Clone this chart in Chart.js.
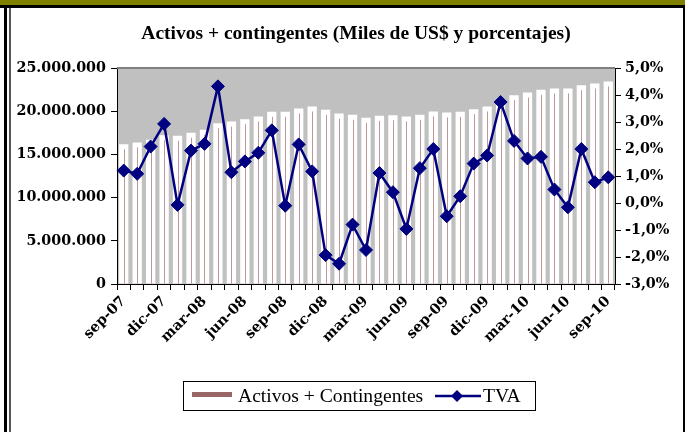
<!DOCTYPE html>
<html><head><meta charset="utf-8">
<script src="https://cdn.jsdelivr.net/npm/chart.js@4/dist/chart.umd.min.js"></script>
<style>
html,body{margin:0;padding:0;background:#fff;}
#wrap{position:relative;width:685px;height:432px;overflow:hidden;background:#fff;}
canvas{position:absolute;left:0;top:0;}
.f{position:absolute;}
.lt{font-family:"Liberation Serif",serif;font-size:19.6px;line-height:20px;color:#000;white-space:nowrap;}
#title{font-family:"Liberation Serif",serif;font-size:19.5px;font-weight:bold;line-height:24px;text-align:center;white-space:nowrap;color:#000;}
</style></head><body>
<div id="wrap">
<canvas id="c" width="685" height="432"></canvas>
<div class="f" style="left:0;top:0;width:685px;height:5px;background:#808000"></div>
<div class="f" style="left:0;top:5px;width:685px;height:3px;background:#000"></div>
<div class="f" style="left:4px;top:5px;width:3px;height:427px;background:#000"></div>
<div class="f" style="left:9px;top:8px;width:2px;height:424px;background:#555"></div>
<div class="f" style="left:683px;top:5px;width:2px;height:427px;background:#000"></div>
<div id="title" class="f" style="left:0;top:21px;width:712px"></div>
<div class="f" style="left:183px;top:381px;width:351px;height:28px;border:1px solid #000;"></div>
<div class="f" style="left:192px;top:392px;width:40px;height:5px;background:#996666"></div>
<span id="lg0" class="f lt" style="left:238px;top:386px"></span>
<svg class="f" style="left:433px;top:386px" width="50" height="20"><line x1="2" y1="10" x2="48" y2="10" stroke="#000080" stroke-width="2.5"/><polygon points="24,4 30,10 24,16 18,10" fill="#000080"/></svg>
<span id="lg1" class="f lt" style="left:483px;top:386px"></span>
</div>
<script>
const months = ['sep-07','oct-07','nov-07','dic-07','ene-08','feb-08','mar-08','abr-08','may-08','jun-08','jul-08','ago-08',
'sep-08','oct-08','nov-08','dic-08','ene-09','feb-09','mar-09','abr-09','may-09','jun-09','jul-09','ago-09',
'sep-09','oct-09','nov-09','dic-09','ene-10','feb-10','mar-10','abr-10','may-10','jun-10','jul-10','ago-10','sep-10'];
const activos = [16180000,16380000,16690000,17220000,17150000,17500000,17840000,18600000,18800000,19070000,
19390000,19930000,19930000,20300000,20540000,20160000,19730000,19580000,19230000,19460000,
19540000,19390000,19580000,19970000,19850000,19930000,20230000,20540000,21200000,21850000,
22160000,22470000,22630000,22630000,23000000,23200000,23440000];
const tva = [1.20,1.08,2.09,2.93,-0.07,1.94,2.19,4.32,1.14,1.54,1.86,2.69,-0.10,2.17,1.17,-1.93,-2.25,-0.80,-1.74,1.11,
0.40,-0.96,1.29,2.00,-0.49,0.25,1.46,1.76,3.74,2.30,1.65,1.71,0.50,-0.16,2.00,0.77,0.95];
const xTickEvery = 3;
const seriesNames = ['Activos + Contingentes','TVA'];
const titleText = 'Activos + contingentes (Miles de US$ y porcentajes)';

document.getElementById('title').textContent = titleText;
document.getElementById('lg0').textContent = seriesNames[0];
document.getElementById('lg1').textContent = seriesNames[1];

const tickFont = {family:'"DejaVu Serif", serif', size:14.3, weight:'bold'};
function fmtMiles(v){ return String(Math.round(v)).replace(/\B(?=(\d{3})+(?!\d))/g,'.'); }

const deco = {
  id:'deco',
  beforeDraw(chart){
    const {ctx, chartArea:a} = chart;
    ctx.save(); ctx.fillStyle='#c0c0c0';
    ctx.fillRect(a.left, a.top, a.right-a.left, a.bottom-a.top);
    ctx.restore();
  },
  afterDatasetDraw(chart, args){
    if (args.index !== 1) return;
    const ctx = chart.ctx;
    ctx.save(); ctx.strokeStyle='rgba(150,80,80,0.6)'; ctx.lineWidth=1;
    ctx.beginPath();
    args.meta.data.forEach(b=>{
      const x = Math.round(b.x)+0.5;
      ctx.moveTo(x, b.y+5); ctx.lineTo(x, b.base);
    });
    ctx.stroke(); ctx.restore();
  },
  afterDraw(chart){
    const {ctx, chartArea:a} = chart;
    ctx.save(); ctx.strokeStyle='#808080'; ctx.lineWidth=2;
    ctx.beginPath(); ctx.moveTo(a.left, a.top); ctx.lineTo(a.right, a.top); ctx.stroke();
    ctx.restore();
  }
};

new Chart(document.getElementById('c'), {
  data:{
    labels: months,
    datasets:[
      {type:'line', label:seriesNames[1], data:tva, yAxisID:'y1', order:0,
       borderColor:'#000080', backgroundColor:'#000080', borderWidth:2.5,
       pointStyle:'rectRot', pointRadius:6.5, pointBackgroundColor:'#000080', pointBorderColor:'#000080', pointBorderWidth:1,
       tension:0, fill:false},
      {type:'bar', label:seriesNames[0], data:activos, yAxisID:'y', order:1,
       backgroundColor:'#ffffff', borderWidth:0, barPercentage:0.69, categoryPercentage:1}
    ]
  },
  options:{
    responsive:false, animation:false, devicePixelRatio:1,
    layout:{padding:{left:0,right:0,top:68,bottom:0}},
    plugins:{
      legend:{display:false}, tooltip:{enabled:false}, title:{display:false}
    },
    scales:{
      x:{offset:true,
         grid:{display:true, drawOnChartArea:false, offset:true, tickLength:6, color:'#000', tickColor:'#000'},
         border:{display:true, color:'#000', width:1},
         ticks:{autoSkip:false, maxRotation:45, minRotation:45, padding:3, color:'#000', font:tickFont,
           callback:(v,i)=> i % xTickEvery === 0 ? months[i] : ''},
         afterFit(s){ s.height = 148; }},
      y:{position:'left', min:0, max:25000000,
         grid:{drawOnChartArea:false, tickLength:6, color:'#000'},
         border:{display:true, color:'#000', width:1},
         ticks:{stepSize:5000000, padding:5, color:'#000', font:tickFont, callback:v=>fmtMiles(v)},
         afterFit(s){ s.width = 117; }},
      y1:{position:'right', min:-3, max:5,
         grid:{drawOnChartArea:false, tickLength:6, color:'#000'},
         border:{display:true, color:'#000', width:1},
         ticks:{stepSize:1, padding:4, color:'#000', font:tickFont, callback:v=>v.toFixed(1).replace('.',',')+'%'},
         afterFit(s){ s.width = 70; }}
    }
  },
  plugins:[deco]
});
</script>
</body></html>
